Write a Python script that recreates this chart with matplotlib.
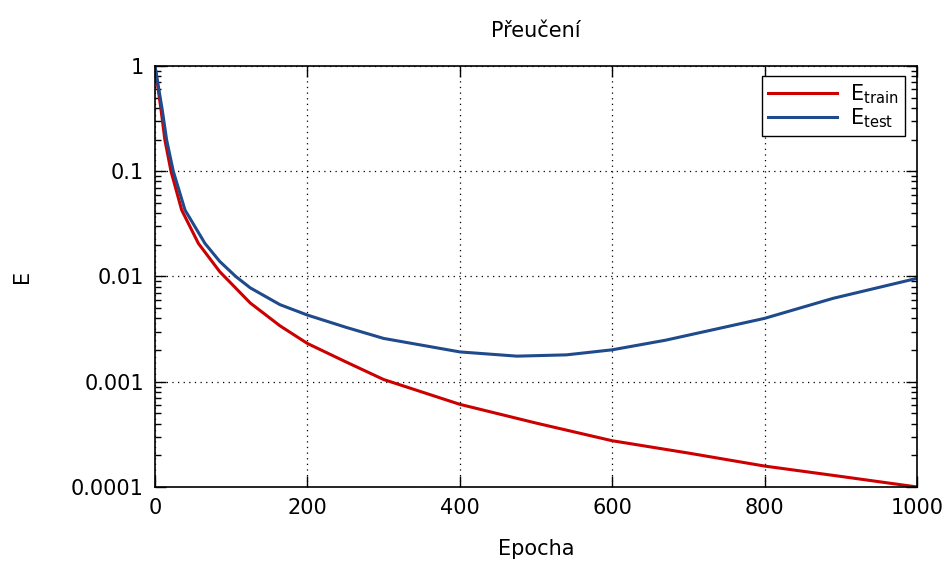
import matplotlib
matplotlib.use("Agg")
import matplotlib.pyplot as plt
from matplotlib.ticker import LogLocator, NullFormatter

# Data
epoch_train = [0, 8, 13, 21, 35, 57, 85, 125, 164, 200, 250, 300, 400, 500, 600, 700, 800, 900, 1000]
e_train = [1.0, 0.38, 0.198, 0.1, 0.0428, 0.0206, 0.0111, 0.0056, 0.0034, 0.00231,
           0.00155, 0.00105, 0.00061, 0.000405, 0.000275, 0.00021, 0.000158, 0.000126, 0.0001]

epoch_test = [0, 9.6, 15.3, 24, 39.4, 65.6, 85, 106, 125, 164, 200, 250, 300, 400, 475, 540, 600, 670, 800, 890, 1000]
e_test = [1.0, 0.38, 0.198, 0.1, 0.0428, 0.0206, 0.0139, 0.01, 0.0078, 0.0054, 0.0043, 0.0033,
          0.00258, 0.00192, 0.00175, 0.0018, 0.00201, 0.00248, 0.0040, 0.0062, 0.0096]

x_ticks = [0, 200, 400, 600, 800, 1000]
y_ticks = [1, 0.1, 0.01, 0.001, 0.0001]
y_tick_labels = ['1', '0.1', '0.01', '0.001', '0.0001']

plt.rcParams['mathtext.fontset'] = 'dejavusans'
plt.rcParams['font.size'] = 15

fig = plt.figure(figsize=(9.52, 5.62), dpi=100)
ax = fig.add_axes([0.1628, 0.1335, 0.8004, 0.7491])

ax.plot(epoch_train, e_train, color='#cc0000', lw=2.2, label=r'$\mathrm{E}_{\mathrm{train}}$')
ax.plot(epoch_test, e_test, color='#1f4a8c', lw=2.2, label=r'$\mathrm{E}_{\mathrm{test}}$')

ax.set_yscale('log')
ax.set_xlim(0, 1000)
ax.set_ylim(0.0001, 1)
ax.set_xticks(x_ticks)
ax.set_yticks(y_ticks)
ax.set_yticklabels(y_tick_labels)
ax.yaxis.set_minor_locator(LogLocator(base=10, subs=range(2, 10)))
ax.yaxis.set_minor_formatter(NullFormatter())

ax.tick_params(which='both', direction='in', top=True, right=True, width=1)
ax.tick_params(which='major', length=8, pad=8, labelsize=15)
ax.tick_params(which='minor', length=4)
for s in ax.spines.values():
    s.set_linewidth(1.2)

ax.grid(True, which='major', color='black', linestyle=(0, (1, 3.5)), linewidth=0.9)

ax.set_title('Přeučení', fontsize=15, pad=21)
ax.set_xlabel('Epocha', fontsize=15, labelpad=15)
ax.set_ylabel('E', fontsize=15, labelpad=28)

leg = ax.legend(loc='upper right', fontsize=15, handlelength=3.3, handletextpad=0.65,
                fancybox=False, framealpha=1, edgecolor='black', borderpad=0.3,
                labelspacing=0.0, bbox_to_anchor=(0.984, 0.976), borderaxespad=0)
leg.get_frame().set_linewidth(1)

plt.savefig('out.png', dpi=100)
plt.close()
